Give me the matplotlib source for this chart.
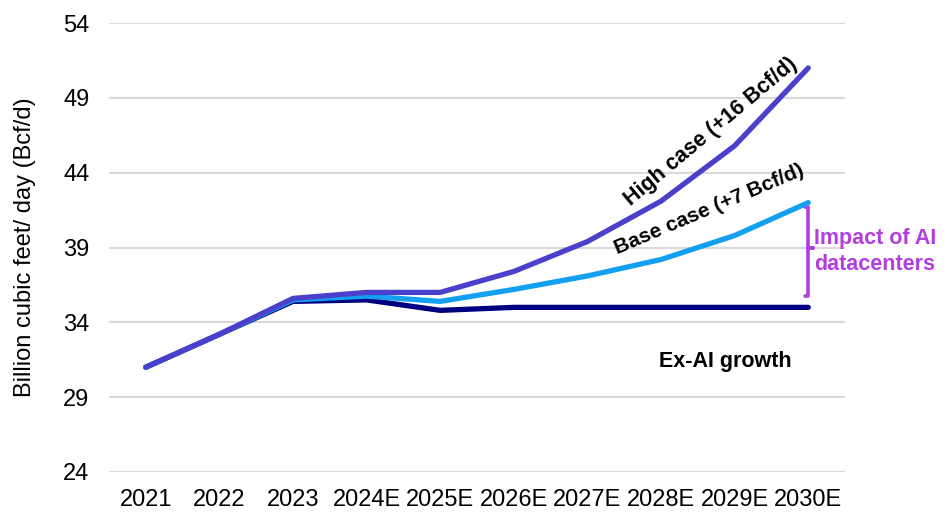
"""
Natural gas demand scenarios with AI datacenters
"""

import matplotlib.pyplot as plt
import numpy as np

plt.rcParams['font.family'] = ['Liberation Sans', 'DejaVu Sans']

years = ['2021', '2022', '2023', '2024E', '2025E', '2026E', '2027E', '2028E', '2029E', '2030E']
ex_ai = [31.0, 33.2, 35.4, 35.5, 34.8, 35.0, 35.0, 35.0, 35.0, 35.0]
base_case = [31.0, 33.2, 35.5, 35.75, 35.4, 36.2, 37.1, 38.2, 39.8, 42.0]
high_case = [31.0, 33.2, 35.6, 36.0, 36.0, 37.4, 39.4, 42.1, 45.8, 51.0]
yticks = [24, 29, 34, 39, 44, 49, 54]

fig = plt.figure(figsize=(9.51, 5.13), dpi=100)
ax = fig.add_axes([0.1146, 0.080, 0.774, 0.875])

x = np.arange(len(years))
ax.plot(x, ex_ai, color='#000080', lw=3.8, solid_capstyle='round', zorder=3)
ax.plot(x, base_case, color='#14A0F0', lw=3.8, solid_capstyle='round', zorder=4)
ax.plot(x, high_case, color='#4B40CC', lw=3.8, solid_capstyle='round', zorder=5)

ax.set_xlim(-0.5, 9.5)
ax.set_ylim(24, 54)
ax.set_xticks(x)
ax.set_xticklabels(years, fontsize=17)
ax.set_yticks(yticks)
ax.tick_params(axis='y', labelsize=17, length=0, pad=14)
ax.tick_params(axis='x', length=0, pad=12)
ax.set_ylabel('Billion cubic feet/ day (Bcf/d)', fontsize=17, labelpad=20)
ax.yaxis.grid(True, color='#D9D9D9', lw=1.5)
ax.set_axisbelow(True)
for s in ax.spines.values():
    s.set_visible(False)

# series labels
ax.text(7.68, 46.75, 'High case (+16 Bcf/d)', rotation=40, fontsize=15.5, weight='bold',
        ha='center', va='center')
ax.text(7.65, 41.55, 'Base case (+7 Bcf/d)', rotation=23, fontsize=15, weight='bold',
        ha='center', va='center')
ax.text(7.87, 31.4, 'Ex-AI growth', fontsize=15.5, weight='bold', ha='center', va='center')

# bracket showing AI impact
purple = '#B23EE0'
bx = 9.0
ax.plot([bx - 0.05, bx, bx, bx + 0.07, bx, bx, bx - 0.05],
        [41.7, 41.7, 38.95, 38.95, 38.95, 35.75, 35.75],
        color=purple, lw=2.6, clip_on=False, solid_capstyle='round')
ax.text(9.08, 38.75, 'Impact of AI\ndatacenters', color=purple, fontsize=15.5, weight='bold',
        ha='left', va='center', linespacing=1.3)

plt.savefig('out.png', dpi=100)
plt.close()
